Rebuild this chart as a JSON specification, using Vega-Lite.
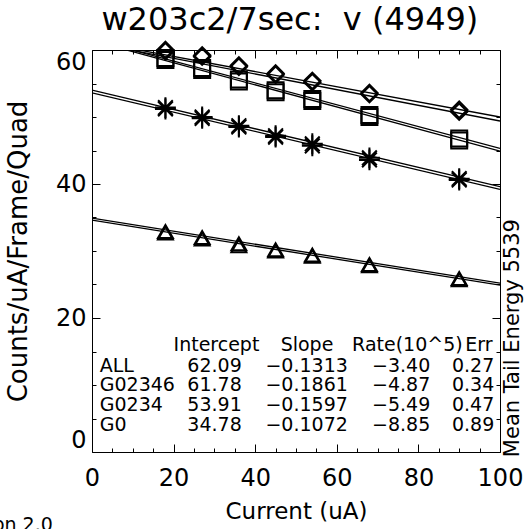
{
  "$schema": "https://vega.github.io/schema/vega-lite/v6.json",
  "autosize": {"type": "none"},
  "padding": {"left": 92, "top": 50, "right": 25, "bottom": 77},
  "width": 408,
  "height": 402,
  "background": "white",
  "datasets": {
    "fits": [
      {"g": "D1", "x": 0, "y": 61.3}, {"g": "D1", "x": 100, "y": 50.0},
      {"g": "D2", "x": 0, "y": 61.1}, {"g": "D2", "x": 100, "y": 49.4},
      {"g": "S1", "x": 0, "y": 61.6}, {"g": "S1", "x": 100, "y": 45.3},
      {"g": "S2", "x": 0, "y": 61.4}, {"g": "S2", "x": 100, "y": 44.9},
      {"g": "A1", "x": 0, "y": 54.0}, {"g": "A1", "x": 100, "y": 39.6},
      {"g": "A2", "x": 0, "y": 53.6}, {"g": "A2", "x": 100, "y": 39.2},
      {"g": "T1", "x": 0, "y": 34.9}, {"g": "T1", "x": 100, "y": 25.2},
      {"g": "T2", "x": 0, "y": 34.6}, {"g": "T2", "x": 100, "y": 24.9}
    ],
    "pts": [
      {"g": "D", "x": 18, "y": 60.0}, {"g": "D", "x": 27, "y": 59.2}, {"g": "D", "x": 36, "y": 57.7}, {"g": "D", "x": 45, "y": 56.5}, {"g": "D", "x": 54, "y": 55.4}, {"g": "D", "x": 68, "y": 53.6}, {"g": "D", "x": 90, "y": 51.1},
      {"g": "D", "x": 18, "y": 59.8}, {"g": "D", "x": 27, "y": 59.0}, {"g": "D", "x": 36, "y": 57.5}, {"g": "D", "x": 45, "y": 56.3}, {"g": "D", "x": 54, "y": 55.2}, {"g": "D", "x": 68, "y": 53.4}, {"g": "D", "x": 90, "y": 50.8},
      {"g": "S", "x": 18, "y": 58.8}, {"g": "S", "x": 27, "y": 57.3}, {"g": "S", "x": 36, "y": 55.6}, {"g": "S", "x": 45, "y": 54.0}, {"g": "S", "x": 54, "y": 52.7}, {"g": "S", "x": 68, "y": 50.3}, {"g": "S", "x": 90, "y": 46.8},
      {"g": "S", "x": 18, "y": 58.5}, {"g": "S", "x": 27, "y": 57.0}, {"g": "S", "x": 36, "y": 55.3}, {"g": "S", "x": 45, "y": 53.7}, {"g": "S", "x": 54, "y": 52.4}, {"g": "S", "x": 68, "y": 50.0}, {"g": "S", "x": 90, "y": 46.5},
      {"g": "A", "x": 18, "y": 51.4}, {"g": "A", "x": 27, "y": 50.0}, {"g": "A", "x": 36, "y": 48.7}, {"g": "A", "x": 45, "y": 47.2}, {"g": "A", "x": 54, "y": 46.0}, {"g": "A", "x": 68, "y": 43.9}, {"g": "A", "x": 90, "y": 40.8},
      {"g": "A", "x": 18, "y": 51.2}, {"g": "A", "x": 27, "y": 49.8}, {"g": "A", "x": 36, "y": 48.5}, {"g": "A", "x": 45, "y": 47.0}, {"g": "A", "x": 54, "y": 45.7}, {"g": "A", "x": 68, "y": 43.6}, {"g": "A", "x": 90, "y": 40.6},
      {"g": "T", "x": 18, "y": 32.9}, {"g": "T", "x": 27, "y": 32.0}, {"g": "T", "x": 36, "y": 31.1}, {"g": "T", "x": 45, "y": 30.2}, {"g": "T", "x": 54, "y": 29.4}, {"g": "T", "x": 68, "y": 28.0}, {"g": "T", "x": 90, "y": 25.9},
      {"g": "T", "x": 18, "y": 32.7}, {"g": "T", "x": 27, "y": 31.8}, {"g": "T", "x": 36, "y": 30.8}, {"g": "T", "x": 45, "y": 30.0}, {"g": "T", "x": 54, "y": 29.2}, {"g": "T", "x": 68, "y": 27.8}, {"g": "T", "x": 90, "y": 25.7}
    ],
    "tleft": [
      {"x": 1.9, "y": 12.87, "t": "ALL"},
      {"x": 1.9, "y": 9.96, "t": "G02346"},
      {"x": 1.9, "y": 6.98, "t": "G0234"},
      {"x": 1.9, "y": 3.99, "t": "G0"},
      {"x": 91.5, "y": 15.94, "t": "Err"}
    ],
    "tright": [
      {"x": 36.7, "y": 12.87, "t": "62.09"},
      {"x": 36.7, "y": 9.96, "t": "61.78"},
      {"x": 36.7, "y": 6.98, "t": "53.91"},
      {"x": 36.7, "y": 3.99, "t": "34.78"},
      {"x": 62.7, "y": 12.87, "t": "−0.1313"},
      {"x": 62.7, "y": 9.96, "t": "−0.1861"},
      {"x": 62.7, "y": 6.98, "t": "−0.1597"},
      {"x": 62.7, "y": 3.99, "t": "−0.1072"},
      {"x": 82.9, "y": 12.87, "t": "−3.40"},
      {"x": 82.9, "y": 9.96, "t": "−4.87"},
      {"x": 82.9, "y": 6.98, "t": "−5.49"},
      {"x": 82.9, "y": 3.99, "t": "−8.85"},
      {"x": 98.6, "y": 12.87, "t": "0.27"},
      {"x": 98.6, "y": 9.96, "t": "0.34"},
      {"x": 98.6, "y": 6.98, "t": "0.47"},
      {"x": 98.6, "y": 3.99, "t": "0.89"},
      {"x": -9.6, "y": -10.9, "t": "Version 2.0"}
    ],
    "tcenter": [
      {"x": 30.5, "y": 15.94, "t": "Intercept"},
      {"x": 52.7, "y": 15.94, "t": "Slope"},
      {"x": 77.3, "y": 15.94, "t": "Rate(10^5)"}
    ],
    "side": [
      {"x": 103.3, "y": 17.0, "t": "Mean Tail Energy 5539"}
    ],
    "head": [
      {"x": 48.5, "y": 63.0, "t": "w203c2/7sec:\u00a0\u00a0v (4949)"}
    ]
  },
  "layer": [
    {
      "data": {"name": "fits"},
      "mark": {"type": "line", "clip": true, "color": "black", "strokeWidth": 1.3},
      "encoding": {
        "x": {"field": "x", "type": "quantitative", "scale": {"domain": [0, 100], "nice": false, "zero": false},
              "axis": {"orient": "bottom", "values": [0, 20, 40, 60, 80, 100], "tickSize": -8, "labelPadding": 22, "labelFontSize": 24, "labelFlush": false, "title": "Current (uA)", "titleFontSize": 23, "titlePadding": 10}},
        "y": {"field": "y", "type": "quantitative", "scale": {"domain": [0, 60], "nice": false, "zero": false},
              "axis": {"orient": "left", "values": [0, 20, 40, 60], "tickSize": -8, "labelPadding": 14, "labelFontSize": 24, "labelFlush": true, "labelFlushOffset": 0, "title": "Counts/uA/Frame/Quad", "titleFontSize": 26, "titlePadding": 24}},
        "detail": {"field": "g"}
      }
    },
    {
      "data": {"name": "pts"},
      "mark": {"type": "point", "filled": false, "stroke": "black", "opacity": 1},
      "encoding": {
        "x": {"field": "x", "type": "quantitative", "axis": {"orient": "top", "values": [0, 20, 40, 60, 80, 100], "tickSize": -8, "labels": false, "title": null}},
        "y": {"field": "y", "type": "quantitative", "axis": {"orient": "right", "values": [0, 20, 40, 60], "tickSize": -8, "labels": false, "title": null}},
        "shape": {"field": "g", "type": "nominal", "legend": null,
                  "scale": {"domain": ["D", "S", "A", "T"], "range": ["diamond", "square", "M-1.35,0L1.35,0M0,-1.35L0,1.35M-0.95,-0.95L0.95,0.95M-0.95,0.95L0.95,-0.95", "triangle-up"]}},
        "size": {"field": "g", "type": "nominal", "legend": null,
                 "scale": {"domain": ["D", "S", "A", "T"], "range": [270, 225, 300, 250]}},
        "strokeWidth": {"field": "g", "type": "nominal", "legend": null,
                 "scale": {"domain": ["D", "S", "A", "T"], "range": [2, 2, 2.6, 2]}}
      }
    },
    {
      "data": {"name": "tleft"},
      "mark": {"type": "text", "align": "left", "baseline": "middle", "fontSize": 19, "color": "black", "font": "DejaVu Sans"},
      "encoding": {
        "x": {"field": "x", "type": "quantitative", "axis": {"orient": "bottom", "values": [5, 10, 15, 25, 30, 35, 45, 50, 55, 65, 70, 75, 85, 90, 95], "tickSize": -4, "labels": false, "title": null}},
        "y": {"field": "y", "type": "quantitative", "axis": {"orient": "left", "values": [5, 10, 15, 25, 30, 35, 45, 50, 55], "tickSize": -4, "labels": false, "title": null}},
        "text": {"field": "t"}
      }
    },
    {
      "data": {"name": "tright"},
      "mark": {"type": "text", "align": "right", "baseline": "middle", "fontSize": 19, "color": "black", "font": "DejaVu Sans"},
      "encoding": {
        "x": {"field": "x", "type": "quantitative", "axis": {"orient": "top", "values": [5, 10, 15, 25, 30, 35, 45, 50, 55, 65, 70, 75, 85, 90, 95], "tickSize": -4, "labels": false, "title": null}},
        "y": {"field": "y", "type": "quantitative", "axis": {"orient": "right", "values": [5, 10, 15, 25, 30, 35, 45, 50, 55], "tickSize": -4, "labels": false, "title": null}},
        "text": {"field": "t"}
      }
    },
    {
      "data": {"name": "tcenter"},
      "mark": {"type": "text", "align": "center", "baseline": "middle", "fontSize": 19, "color": "black", "font": "DejaVu Sans"},
      "encoding": {
        "x": {"field": "x", "type": "quantitative", "axis": null},
        "y": {"field": "y", "type": "quantitative", "axis": null},
        "text": {"field": "t"}
      }
    },
    {
      "data": {"name": "side"},
      "mark": {"type": "text", "align": "center", "baseline": "middle", "angle": 270, "fontSize": 21, "color": "black", "font": "DejaVu Sans"},
      "encoding": {
        "x": {"field": "x", "type": "quantitative", "axis": null},
        "y": {"field": "y", "type": "quantitative", "axis": null},
        "text": {"field": "t"}
      }
    },
    {
      "data": {"name": "head"},
      "mark": {"type": "text", "align": "center", "baseline": "alphabetic", "fontSize": 32, "color": "black", "font": "DejaVu Sans"},
      "encoding": {
        "x": {"field": "x", "type": "quantitative", "axis": null},
        "y": {"field": "y", "type": "quantitative", "axis": null},
        "text": {"field": "t"}
      }
    }
  ],
  "resolve": {"axis": {"x": "independent", "y": "independent"}},
  "config": {
    "view": {"stroke": "black", "strokeWidth": 1},
    "font": "DejaVu Sans",
    "axis": {"domain": false, "grid": false, "tickColor": "black", "tickWidth": 1, "labelColor": "black", "titleColor": "black", "titleFontWeight": "normal", "labelFont": "DejaVu Sans", "titleFont": "DejaVu Sans"}
  }
}
